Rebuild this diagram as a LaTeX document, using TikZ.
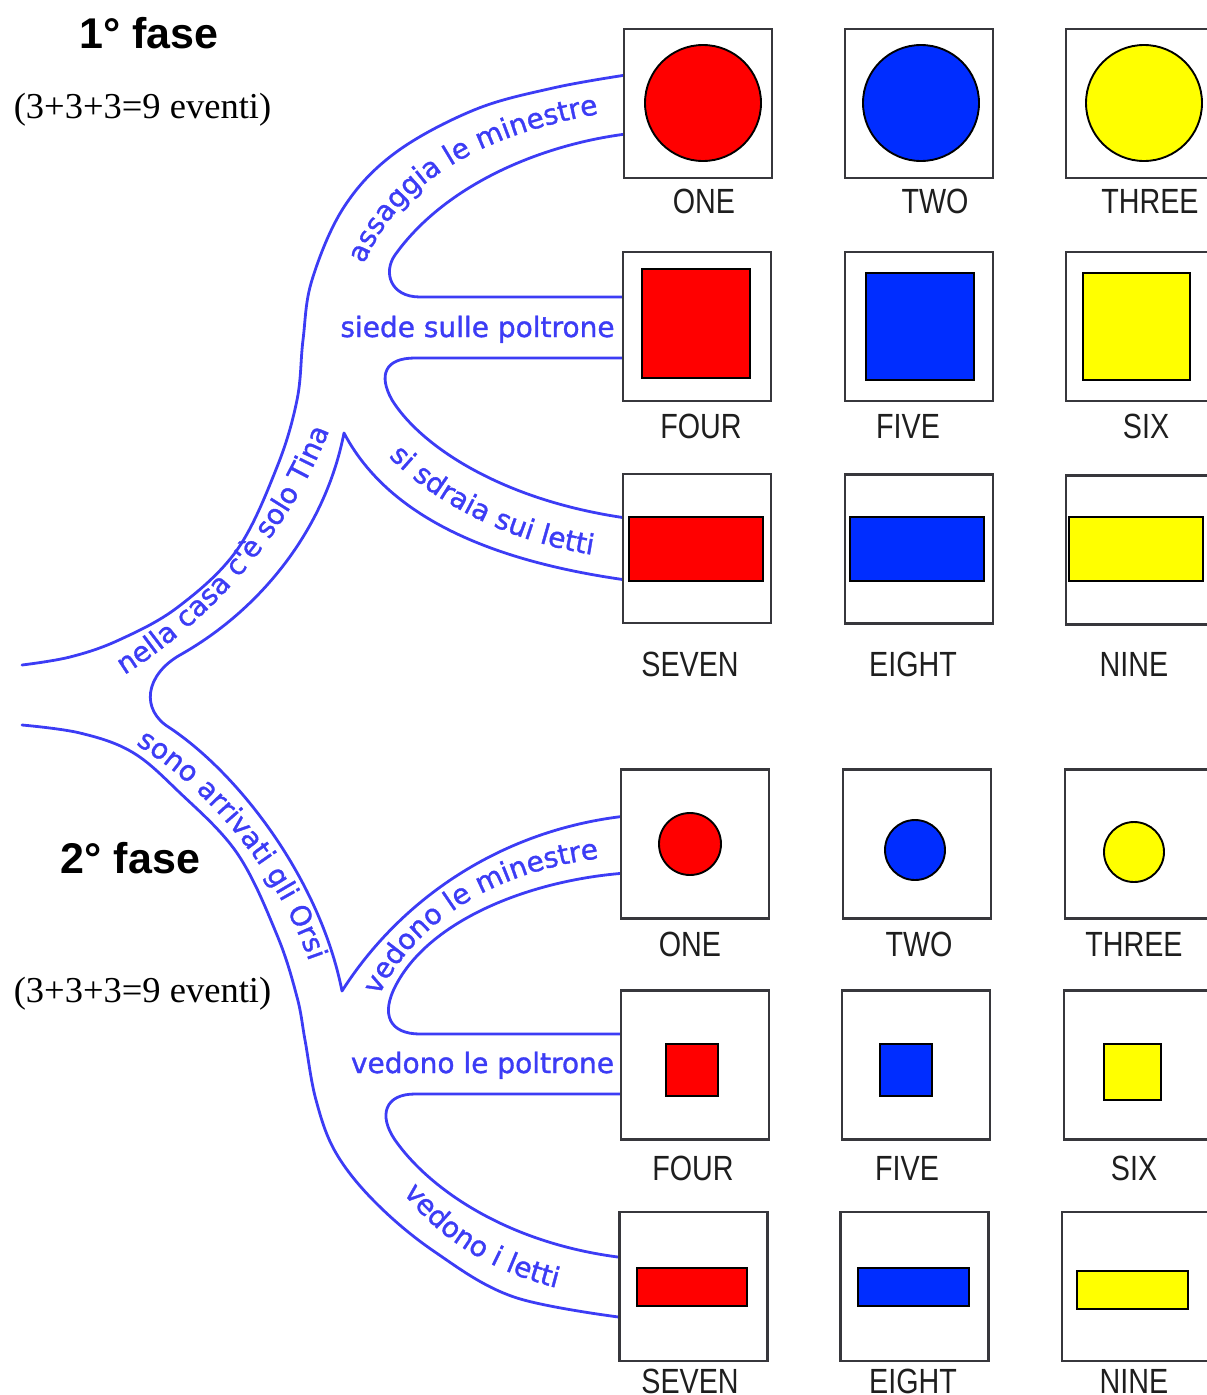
\documentclass[tikz,border=0pt]{standalone}
\usepackage{fontspec}
\usetikzlibrary{decorations.text}
\newfontfamily\labfam{Liberation Sans}
\newfontfamily\bandfam{DejaVu Sans}[FakeBold=1.2]
\newfontfamily\serfam{Liberation Serif}
\definecolor{bandblue}{RGB}{60,60,245}
\definecolor{boxgray}{RGB}{55,55,60}
\definecolor{labgray}{RGB}{30,30,30}
\definecolor{shred}{RGB}{255,0,0}
\definecolor{shblue}{RGB}{0,45,255}
\definecolor{shyellow}{RGB}{255,255,0}
\newcommand\bandfont{\bandfam\fontsize{28}{32}\selectfont}
\newcommand\labfont{\labfam\fontsize{35}{40}\selectfont}
\newcommand\titlefont{\labfam\bfseries\fontsize{43}{48}\selectfont}
\newcommand\serfont{\serfam\fontsize{36.5}{40}\selectfont}
\newcommand\lab[1]{\scalebox{0.82}[1]{#1}}
\begin{document}
\begin{tikzpicture}[x=1pt,y=-1pt,
  band/.style={draw=bandblue, line width=2.8pt, line cap=round, line join=round},
  frame/.style={draw=boxgray, line width=2.8pt, fill=white, minimum width=148pt, minimum height=149pt, inner sep=0pt, outer sep=0pt},
  lab/.style={font=\labfont, text=labgray, anchor=base, inner sep=0pt},
  shp/.style={draw=black, line width=1.9pt},
  btext/.style={decorate, decoration={text along path, text color=bandblue, text align=center}},
  htext/.style={font=\bandfont, text=bandblue, anchor=base, inner sep=0pt},
]
\useasboundingbox (0,0) rectangle (1207,1395);
\clip (0,0) rectangle (1207,1395);

% titles
\node[font=\titlefont, anchor=base, inner sep=0pt] (t1) at (149,48) {1° fase};
\node[font=\serfont, anchor=base, inner sep=0pt] (e1) at (142.5,118) {(3+3+3=9 eventi)};
\node[font=\titlefont, anchor=base, inner sep=0pt] (t2) at (130.5,873) {2° fase};
\node[font=\serfont, anchor=base, inner sep=0pt] (e2) at (142.5,1002) {(3+3+3=9 eventi)};

% ---------- blue band lines ----------
% phase 1 outer edge
\draw[band] plot[smooth, tension=0.6] coordinates {(22,665) (70,657) (119,640) (178,607) (237,550) (277,467) (297,400) (303,340) (312,280) (344,207) (395,153) (474,110) (553,88) (626,75)};
% assaggia inner / siede upper
\draw[band] (626,134) .. controls (540,145) and (445,185) .. (395,255)
  .. controls (383,272) and (390,297) .. (420,297) -- (626,297);
% siede lower / si sdraia upper
\draw[band] (626,358) -- (415,358) .. controls (385,358) and (378,375) .. (392,400)
  .. controls (420,445) and (500,500) .. (626,518);
% si sdraia lower / nella casa inner / notch / sono arrivati inner / vedono le minestre upper
\draw[band] (626,580) .. controls (520,565) and (395,530) .. (344,433)
  .. controls (325,530) and (260,610) .. (180,655)
  .. controls (145,675) and (140,710) .. (170,728)
  .. controls (240,775) and (320,880) .. (342,991)
  .. controls (400,900) and (500,830) .. (626,816);
% phase 2 outer edge
\draw[band] plot[smooth, tension=0.6] coordinates {(22,725) (80,733) (132,752) (178,791) (237,853) (277,935) (297,997) (305,1040) (316,1100) (336,1153) (376,1203) (435,1252) (514,1297) (626,1318)};
% vedono le minestre lower / poltrone upper
\draw[band] (626,873) .. controls (530,880) and (430,920) .. (396,985)
  .. controls (380,1015) and (390,1034) .. (420,1034) -- (626,1034);
% poltrone lower / vedono i letti upper
\draw[band] (626,1094) -- (415,1094) .. controls (385,1094) and (378,1115) .. (395,1140)
  .. controls (430,1190) and (510,1245) .. (626,1258);

% ---------- blue texts ----------
\node[htext] (s2) at (477.5,337) {siede sulle poltrone};
\node[htext] (v2) at (482.5,1073) {vedono le poltrone};
\path[btext, decoration={text={|\bandfont|assaggia le minestre}}] (360,275) .. controls (390,190) and (470,135) .. (610,112);
\path[btext, decoration={text={|\bandfont|si sdraia sui letti}}] (378,445) .. controls (425,500) and (510,545) .. (608,557);
\path[btext, decoration={text={|\bandfont|nella casa c'è solo Tina}}] (113,682) .. controls (200,630) and (290,540) .. (334,418);
\path[btext, decoration={text={|\bandfont|sono arrivati gli Orsi}}] (128,740) .. controls (200,780) and (280,870) .. (312,970);
\path[btext, decoration={text={|\bandfont|vedono le minestre}}] (374,1006) .. controls (410,925) and (490,870) .. (610,857);
\path[btext, decoration={text={|\bandfont|vedono i letti}}] (398,1186) .. controls (430,1230) and (480,1270) .. (565,1290);

% ---------- frames phase 1 ----------
\node[frame] (p11) at (698,103.5) {};
\node[frame] (p12) at (919,103.5) {};
\node[frame] (p13) at (1140,103.5) {};
\node[frame] (p21) at (697,326.5) {};
\node[frame] (p22) at (919,326.5) {};
\node[frame] (p23) at (1140,326.5) {};
\node[frame] (p31) at (697,548.5) {};
\node[frame] (p32) at (919,549) {};
\node[frame] (p33) at (1140,550) {};
% ---------- frames phase 2 ----------
\node[frame] (q11) at (695,844) {};
\node[frame] (q12) at (917,844) {};
\node[frame] (q13) at (1139,844) {};
\node[frame] (q21) at (695,1065) {};
\node[frame] (q22) at (916,1065) {};
\node[frame] (q23) at (1138,1065) {};
\node[frame] (q31) at (693.5,1286.5) {};
\node[frame] (q32) at (914.5,1286.5) {};
\node[frame] (q33) at (1136,1286.5) {};

% ---------- shapes phase 1 ----------
\draw[shp, fill=shred] (703,103) circle (58);
\draw[shp, fill=shblue] (921,103) circle (58);
\draw[shp, fill=shyellow] (1144,103) circle (58);
\draw[shp, fill=shred] (642,269) rectangle (750,378);
\draw[shp, fill=shblue] (866,273) rectangle (974,380);
\draw[shp, fill=shyellow] (1083,273) rectangle (1190,380);
\draw[shp, fill=shred] (629,517) rectangle (763,581);
\draw[shp, fill=shblue] (850,517) rectangle (984,581);
\draw[shp, fill=shyellow] (1069,517) rectangle (1203,581);
% ---------- shapes phase 2 ----------
\draw[shp, fill=shred] (690,844) circle (31);
\draw[shp, fill=shblue] (915,850) circle (30);
\draw[shp, fill=shyellow] (1134,852) circle (30);
\draw[shp, fill=shred] (666,1044) rectangle (718,1096);
\draw[shp, fill=shblue] (880,1044) rectangle (932,1096);
\draw[shp, fill=shyellow] (1104,1044) rectangle (1161,1100);
\draw[shp, fill=shred] (637,1268) rectangle (747,1306);
\draw[shp, fill=shblue] (858,1268) rectangle (969,1306);
\draw[shp, fill=shyellow] (1077,1271) rectangle (1188,1309);

% ---------- labels ----------
\node[lab] (l11) at (704,213) {\lab{ONE}};
\node[lab] (l12) at (935,213) {\lab{TWO}};
\node[lab] (l13) at (1150,213) {\lab{THREE}};
\node[lab] (l21) at (701,438) {\lab{FOUR}};
\node[lab] (l22) at (908,438) {\lab{FIVE}};
\node[lab] (l23) at (1146,438) {\lab{SIX}};
\node[lab] (l31) at (690,676) {\lab{SEVEN}};
\node[lab] (l32) at (913,676) {\lab{EIGHT}};
\node[lab] (l33) at (1134,676) {\lab{NINE}};
\node[lab] (m11) at (690,956) {\lab{ONE}};
\node[lab] (m12) at (919,956) {\lab{TWO}};
\node[lab] (m13) at (1134,956) {\lab{THREE}};
\node[lab] (m21) at (693,1180) {\lab{FOUR}};
\node[lab] (m22) at (907,1180) {\lab{FIVE}};
\node[lab] (m23) at (1134,1180) {\lab{SIX}};
\node[lab] (m31) at (690,1393) {\lab{SEVEN}};
\node[lab] (m32) at (913,1393) {\lab{EIGHT}};
\node[lab] (m33) at (1134,1393) {\lab{NINE}};
\end{tikzpicture}
\end{document}
